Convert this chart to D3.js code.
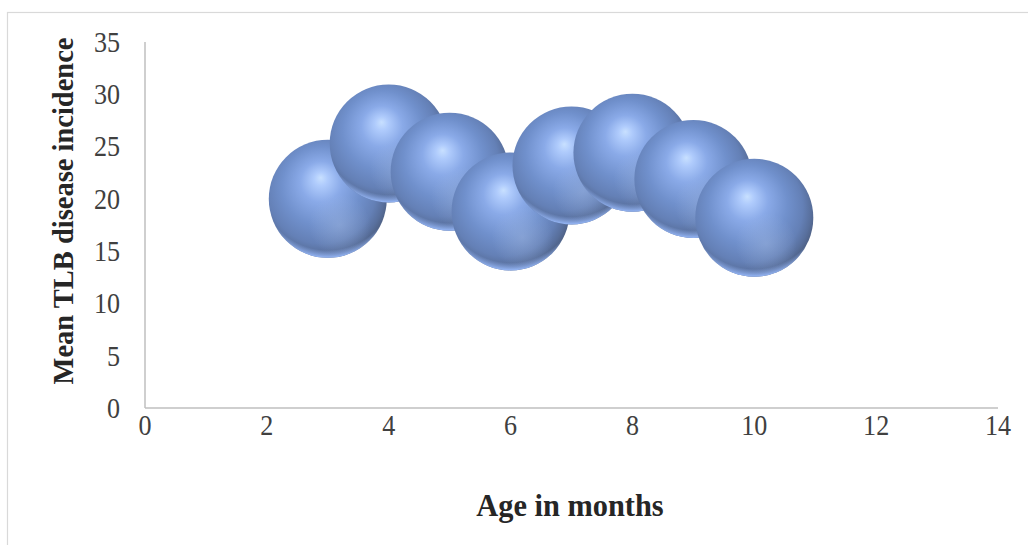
<!DOCTYPE html>
<html>
<head>
<meta charset="utf-8">
<script src="https://cdn.jsdelivr.net/npm/d3@7/dist/d3.min.js"></script>
<style>
  html, body { margin: 0; padding: 0; background: #fff; }
  svg { display: block; }
  text { font-family: "Liberation Serif", "Times New Roman", serif; }
</style>
</head>
<body>
<svg id="chart" width="1028" height="545"></svg>
<script>
// Age (months) of the crop at each assessment
const ageMonths = [3, 4, 5, 6, 7, 8, 9, 10];
// Mean TLB disease incidence at each age
const incidence = [20.0, 25.3, 22.6, 18.8, 23.2, 24.4, 21.9, 18.2];
// Bubble sizes (all bubbles share the same size)
const bubbleSize = [1, 1, 1, 1, 1, 1, 1, 1];
// Axis ticks
const xTicks = [0, 2, 4, 6, 8, 10, 12, 14];
const yTicks = [0, 5, 10, 15, 20, 25, 30, 35];

const xTitle = "Age in months";
const yTitle = "Mean TLB disease incidence";

const svg = d3.select("#chart");
const W = 1028, H = 545;
const plot = { left: 145, right: 998, top: 42, bottom: 408 };

// outer chart frame
svg.append("rect")
  .attr("x", 7.5).attr("y", 12.5)
  .attr("width", W + 10).attr("height", H + 10)
  .attr("fill", "#fff").attr("stroke", "#d9d9d9").attr("stroke-width", 1.2);

const x = d3.scaleLinear().domain([0, 14]).range([plot.left, plot.right]);
const y = d3.scaleLinear().domain([0, 35]).range([plot.bottom, plot.top]);
const r = d3.scaleSqrt().domain([0, d3.max(bubbleSize)]).range([0, 59]);

// sphere shading: body, soft lower glow, light rim along the bottom edge
const defs = svg.append("defs");
const main = defs.append("radialGradient").attr("id", "sphere")
  .attr("cx", 0.45).attr("cy", 0.44).attr("r", 0.58).attr("fx", 0.44).attr("fy", 0.32);
[[0, "#c8e0ff"], [0.1, "#afcbfc"], [0.3, "#8aaae8"], [0.58, "#7090cc"],
 [0.8, "#6480b6"], [0.92, "#586f9c"], [1, "#4d5f82"]].forEach(([o, c]) =>
  main.append("stop").attr("offset", o).attr("stop-color", c));

const glow = defs.append("radialGradient").attr("id", "glow")
  .attr("cx", 0.6).attr("cy", 0.72).attr("r", 0.26);
glow.append("stop").attr("offset", 0).attr("stop-color", "#a9bfe6").attr("stop-opacity", 0.4);
glow.append("stop").attr("offset", 1).attr("stop-color", "#a9bfe6").attr("stop-opacity", 0);

const rim = defs.append("radialGradient").attr("id", "rim")
  .attr("cx", 0.5).attr("cy", 0.36).attr("r", 0.66);
rim.append("stop").attr("offset", 0.87).attr("stop-color", "#93b4f4").attr("stop-opacity", 0);
rim.append("stop").attr("offset", 0.96).attr("stop-color", "#93b4f4").attr("stop-opacity", 0.95);
rim.append("stop").attr("offset", 1).attr("stop-color", "#93b4f4").attr("stop-opacity", 1);

// axes lines
svg.append("line")
  .attr("x1", x(0)).attr("x2", x(0)).attr("y1", y(35)).attr("y2", y(0))
  .attr("stroke", "#bfbfbf").attr("stroke-width", 1.5);
svg.append("line")
  .attr("x1", x(0)).attr("x2", x(14)).attr("y1", y(0)).attr("y2", y(0))
  .attr("stroke", "#bfbfbf").attr("stroke-width", 1.5);

// tick labels
const tickFont = 29, sx = 0.9;
svg.append("g").selectAll("text").data(yTicks).join("text")
  .attr("transform", d => `translate(120,${y(d)}) scale(${sx},1)`)
  .attr("dy", "0.34em")
  .attr("text-anchor", "end")
  .attr("font-size", tickFont).attr("fill", "#404040")
  .text(d => d);

svg.append("g").selectAll("text").data(xTicks).join("text")
  .attr("transform", d => `translate(${x(d)},435) scale(${sx},1)`)
  .attr("text-anchor", "middle")
  .attr("font-size", tickFont).attr("fill", "#404040")
  .text(d => d);

// axis titles
svg.append("text")
  .attr("transform", `translate(570,516) scale(0.98,1)`)
  .attr("text-anchor", "middle")
  .attr("font-size", 31).attr("font-weight", "bold").attr("fill", "#262626")
  .text(xTitle);

svg.append("text")
  .attr("transform", `translate(73,211) rotate(-90)`)
  .attr("text-anchor", "middle")
  .attr("font-size", 28.5).attr("font-weight", "bold").attr("fill", "#262626")
  .text(yTitle);

// bubbles, drawn in order so later ages sit on top
const data = ageMonths.map((a, i) => ({ a, v: incidence[i], s: bubbleSize[i] }));
const g = svg.append("g").selectAll("g").data(data).join("g");
["url(#sphere)", "url(#glow)", "url(#rim)"].forEach(f =>
  g.append("circle")
    .attr("cx", d => x(d.a)).attr("cy", d => y(d.v)).attr("r", d => r(d.s))
    .attr("fill", f));
</script>
</body>
</html>
